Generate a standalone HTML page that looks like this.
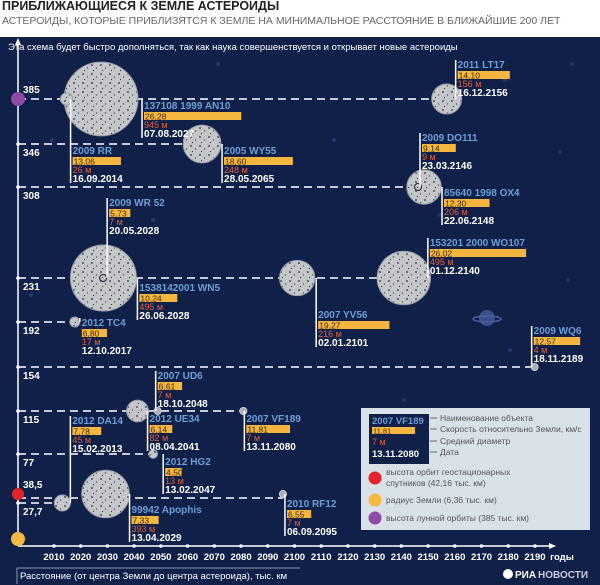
<!DOCTYPE html>
<html><head><meta charset="utf-8">
<style>
body{margin:0;width:600px;height:585px;overflow:hidden;background:#fff;font-family:"Liberation Sans Narrow","Liberation Sans","DejaVu Sans",sans-serif;}
#hdr{position:absolute;left:0;top:0;width:600px;height:37px;background:#fff}
#t1{position:absolute;left:2px;top:-1px;font-weight:bold;font-size:12.5px;color:#222}
#t2{position:absolute;left:2px;top:15px;font-size:10.5px;color:#666}
svg{position:absolute;left:0;top:0}
</style></head><body>
<div id="hdr">
<div id="t1">ПРИБЛИЖАЮЩИЕСЯ К ЗЕМЛЕ АСТЕРОИДЫ</div>
<div id="t2">АСТЕРОИДЫ, КОТОРЫЕ ПРИБЛИЗЯТСЯ К ЗЕМЛЕ НА МИНИМАЛЬНОЕ РАССТОЯНИЕ В БЛИЖАЙШИЕ 200 ЛЕТ</div>
</div>
<svg id="chart" width="600" height="585"></svg>
<script>
const names=["2011 LT17","137108 1999 AN10","2009 RR","2005 WY55","2009 DO111","85640 1998 OX4","2009 WR 52","1538142001 WN5","2007 YV56","153201 2000 WO107","2012 TC4","2009 WQ6","2007 UD6","2012 UE34","2007 VF189","2012 DA14","2012 HG2","99942 Apophis","2010 RF12"];
const dates=["16.12.2156","07.08.2027","16.09.2014","28.05.2065","23.03.2146","22.06.2148","20.05.2028","26.06.2028","02.01.2101","01.12.2140","12.10.2017","18.11.2189","18.10.2048","08.04.2041","13.11.2080","15.02.2013","13.02.2047","13.04.2029","06.09.2095"];
const distances=[385,385,385,346,308,308,231,231,231,231,192,154,115,115,115,27.7,77,38.5,38.5];
const speeds=[14.10,26.28,13.06,18.60,9.14,12.30,5.73,10.24,19.27,26.02,6.80,12.57,6.61,6.14,11.81,7.78,4.50,7.33,6.55];
const diameters=[156,945,26,248,9,206,7,495,216,495,17,4,7,82,7,45,13,393,7];
const levelTicks=[385,346,308,231,192,154,115,77,38.5,27.7];
const levelLabels=["385","346","308","231","192","154","115","77","38,5","27,7"];
const yearTicks=[2010,2020,2030,2040,2050,2060,2070,2080,2090,2100,2110,2120,2130,2140,2150,2160,2170,2180,2190];
// label layout offsets (not data)
const labelLayout=[[11,-39],[43,2],[6,47],[22,2],[4,-54],[20,1],[6,-80],[36,5],[21,32],[26,-40],[7,-4],[-1,-41],[0,-40],[12,3],[3,3],[10,-87],[12,3],[26,11],[4,5]];

const NS="http://www.w3.org/2000/svg";
const svg=document.getElementById('chart');
function mk(tag,attrs,parent){const e=document.createElementNS(NS,tag);for(const k in attrs)e.setAttribute(k,attrs[k]);(parent||svg).appendChild(e);return e;}
function txt(s,x,y,attrs,parent){const e=mk('text',Object.assign({x:x,y:y},attrs),parent);e.textContent=s;return e;}
function xScale(year){return 54+(year-2010)*2.672;}
function yScale(v){const d=[385,346,308,231,192,154,115,77,38.5,27.7,0],r=[99,144,187,278,322,367,411,454,494,503,539];
  if(v>=d[0])return r[0]-(v-d[0])*1.15;
  for(let i=0;i<d.length-1;i++){if(v<=d[i]&&v>=d[i+1])return r[i]+(d[i]-v)/(d[i]-d[i+1])*(r[i+1]-r[i]);}return r[r.length-1];}
function yearOf(s){const p=s.split('.');return +p[2]+(+p[1]-1)/12+(+p[0])/365;}
function rad(d,n){return n==='1538142001 WN5'?33:Math.max(3,1.2*Math.sqrt(d));}
function fmt(v){return v.toFixed(2).replace('.',',');}

const defs=mk('defs',{});
const pat=mk('pattern',{id:'rock',width:9,height:9,patternUnits:'userSpaceOnUse'},defs);
mk('rect',{width:9,height:9,fill:'#c4c6c9'},pat);
mk('circle',{cx:2,cy:2,r:0.9,fill:'#2a2f3a'},pat);
mk('circle',{cx:6.5,cy:5,r:0.7,fill:'#555'},pat);
mk('circle',{cx:3.5,cy:7.5,r:0.6,fill:'#333'},pat);

const bg=mk('rect',{x:0,y:37,width:600,height:548,fill:'#112048'});

const note=txt('Эта схема будет быстро дополняться, так как наука совершенствуется и открывает новые астероиды',8,50,{fill:'#fff','font-size':'9.5px'});

[[218,64],[173,108],[93,92],[52,140],[153,220],[31,295],[283,161],[334,140],[385,260],[572,64],[505,80],[560,152],[440,215],[568,280],[510,350],[404,400]].forEach(p=>mk('circle',{cx:p[0],cy:p[1],r:2,fill:'#26366a'}));
const pl=mk('g',{});
mk('circle',{cx:487,cy:318,r:8,fill:'#3a4f8a'},pl);mk('ellipse',{cx:487,cy:319,rx:14,ry:3,fill:'none',stroke:'#4a5fa0','stroke-width':1.5},pl);

const maxX={};
distances.forEach((d,i)=>{const x=xScale(yearOf(dates[i]));maxX[d]=Math.max(maxX[d]||0,x);});
Object.keys(maxX).forEach(k=>{const yy=yScale(+k)+(k==38.5?4:0);const l=mk('line',{x1:18,x2:maxX[k],y1:yy,y2:yy,stroke:'#fff','stroke-width':1.5,'stroke-dasharray':'8,5'});
 });

const yax=mk('line',{x1:18,y1:40,x2:18,y2:546,stroke:'#fff','stroke-width':1.5});

mk('path',{d:'M15,45 L18,38 L21,45 Z',fill:'#fff'});
const xax=mk('line',{x1:18,y1:546,x2:552,y2:546,stroke:'#fff','stroke-width':1.5});

mk('path',{d:'M549,543 L556,546 L549,549 Z',fill:'#fff'});
levelTicks.forEach((v,i)=>{const y=yScale(v);mk('circle',{cx:18,cy:y,r:1.8,fill:'#fff'});
 const off=(v===385||v===38.5)?-6:12;
 const t=txt(levelLabels[i],23,y+off,{fill:'#fff','font-size':'10px','font-weight':'bold'});
 });
yearTicks.forEach(yr=>{const x=xScale(yr);mk('circle',{cx:x,cy:546,r:1.8,fill:'#fff'});
 const t=txt(String(yr),x,560,{fill:'#fff','font-size':'9.5px','font-weight':'bold','text-anchor':'middle'});
 });
const gu=txt('годы',562,560,{fill:'#fff','font-size':'9.5px','font-weight':'bold','text-anchor':'middle'});

mk('path',{d:'M17,584 L17,568 L300,568',fill:'none',stroke:'#8894b0','stroke-width':1});
const xt=txt('Расстояние (от центра Земли до центра  астероида), тыс. км',20,579,{fill:'#fff','font-size':'9.5px'});

[[yScale(385),'#8e4aa6',7,'moon-orbit-dot'],[yScale(38.5),'#e3232a',6,'geo-orbit-dot'],[539,'#f4b942',7,'earth-radius-dot']].forEach(d=>{const c=mk('circle',{cx:18,cy:d[0],r:d[2],fill:d[1]});});

names.forEach((n,i)=>{if(diameters[i]<10)return;const cx=xScale(yearOf(dates[i])),cy=yScale(distances[i]);
 const c=mk('circle',{cx:cx,cy:cy,r:rad(diameters[i],n),fill:'url(#rock)',stroke:'#9aa0a8','stroke-width':1});
 });
names.forEach((n,i)=>{if(diameters[i]>=10)return;const cx=xScale(yearOf(dates[i])),cy=yScale(distances[i]);
 const ring=(n==='2009 DO111'||n==='2009 WR 52');
 const c=mk('circle',{cx:cx,cy:cy,r:3.5,fill:ring?'none':'#aab0b8',stroke:ring?'#223':'#ccc','stroke-width':1});
 });

names.forEach((n,i)=>{const cx=xScale(yearOf(dates[i])),cy=yScale(distances[i]);
 const lx=cx+labelLayout[i][0],top=cy+labelLayout[i][1];
 const g=mk('g',{});
 mk('line',{x1:lx-2,x2:lx-2,y1:Math.min(top,cy),y2:(top>cy?top+37:cy),stroke:'#fff','stroke-width':1.5},g);
 txt(n,lx,top+8,{fill:'#6a9fd6','font-size':'10px','font-weight':'bold'},g);
 mk('rect',{x:lx,y:top+11,width:speeds[i]*3.7,height:8,fill:'#f5b63f'},g);
 txt(fmt(speeds[i]),lx+1,top+18.5,{fill:'#3a2a10','font-size':'8.5px'},g);
 txt(diameters[i]+' м',lx,top+27,{fill:'#e0613f','font-size':'9px'},g);
 txt(dates[i],lx,top+36,{fill:'#fff','font-size':'10px','font-weight':'bold'},g);});

const lg=mk('g',{});
mk('rect',{x:361,y:408,width:229,height:122,fill:'#d9e1e8'},lg);
mk('rect',{x:369,y:414,width:60,height:50,fill:'#112048'},lg);
txt('2007 VF189',372,424,{fill:'#6a9fd6','font-size':'9.5px','font-weight':'bold'},lg);
mk('rect',{x:372,y:427,width:43,height:7,fill:'#f5b63f'},lg);
txt('11,81',373,433.5,{fill:'#3a2a10','font-size':'7.5px'},lg);
txt('7 м',372,445,{fill:'#e0613f','font-size':'9px'},lg);
txt('13.11.2080',372,457,{fill:'#fff','font-size':'9.5px','font-weight':'bold'},lg);
[['Наименование объекта',421],['Скорость относительно Земли, км/с',432],['Средний диаметр',444],['Дата',455]].forEach(d=>{
 mk('line',{x1:430,x2:437,y1:d[1]-3,y2:d[1]-3,stroke:'#666'},lg);
 const t=txt(d[0],440,d[1],{fill:'#555','font-size':'8.5px'},lg);});
[['#e3232a',478,['высота орбит геостационарных','спутников (42,16 тыс. км)']],['#f4b942',500,['радиус Земли (6,36 тыс. км)']],['#8e4aa6',518,['высота лунной орбиты (385 тыс. км)']]].forEach(d=>{
 mk('circle',{cx:375,cy:d[1],r:6.5,fill:d[0]},lg);
 d[2].forEach((s,k)=>{const t=txt(s,386,d[1]+3-(d[2].length>1?6:0)+k*11,{fill:'#555','font-size':'8.5px'},lg);});});
const lo=mk('g',{});
mk('circle',{cx:508,cy:574,r:5,fill:'#fff'},lo);
txt('РИА',515,578,{fill:'#fff','font-size':'10px','font-weight':'bold'},lo);
txt('НОВОСТИ',538,578,{fill:'#c8ccd8','font-size':'10px','font-weight':'bold'},lo);
</script>
</body></html>
